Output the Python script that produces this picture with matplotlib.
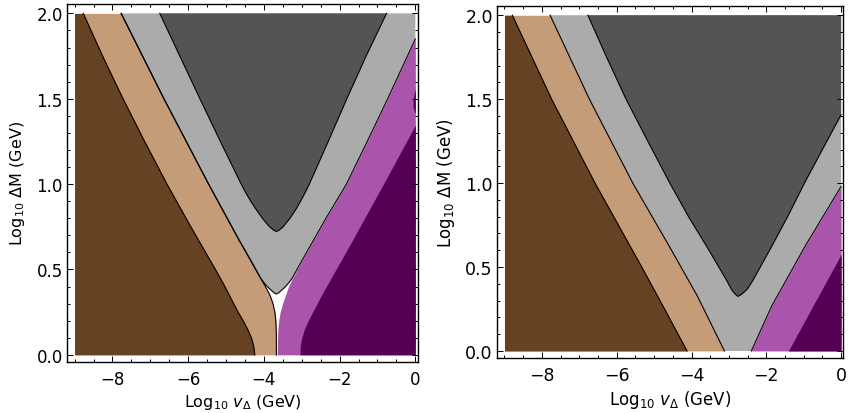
import numpy as np
import matplotlib
matplotlib.use("Agg")
import matplotlib.pyplot as plt
from matplotlib.ticker import MultipleLocator

# ---------------- data ----------------
# x = log10 v_Delta (GeV), y = log10 Delta M (GeV)
X_MIN, X_MAX, Y_MIN, Y_MAX = -9.0, 0.0, 0.0, 2.0

# ---- left panel ----
L_brown_y = [0.0, 0.05, 0.10, 0.15, 0.20, 0.25, 0.30, 0.40, 0.50, 0.75, 1.00, 1.25, 1.50, 1.75, 2.00]
L_brown_x = [-4.24, -4.27, -4.33, -4.43, -4.55, -4.68, -4.80, -5.03, -5.28, -5.93, -6.56, -7.15, -7.72, -8.26, -8.77]

L_tan_y = [0.0, 0.10, 0.15, 0.20, 0.25, 0.30, 0.35, 0.40, 0.45, 0.55, 0.67, 1.00, 1.50, 2.00]
L_tan_x = [-3.67, -3.67, -3.675, -3.685, -3.71, -3.76, -3.84, -3.96, -4.09, -4.34, -4.65, -5.46, -6.64, -7.77]

L_gray_y = [2.00, 1.50, 1.00, 0.67, 0.55, 0.45, 0.42, 0.395, 0.375, 0.362, 0.356,
            0.362, 0.375, 0.395, 0.42, 0.446, 0.55, 0.64, 0.80, 1.00, 1.25, 1.50, 1.85]
L_gray_x = [-7.77, -6.64, -5.46, -4.65, -4.34, -4.09, -3.99, -3.89, -3.79, -3.72, -3.67,
            -3.62, -3.55, -3.45, -3.35, -3.26, -3.00, -2.77, -2.36, -1.82, -1.27, -0.73, 0.0]

L_dark_y = [2.00, 1.75, 1.50, 1.25, 1.00, 0.95, 0.90, 0.85, 0.80, 0.77, 0.75, 0.735, 0.726, 0.723,
            0.726, 0.735, 0.75, 0.77, 0.80, 0.85, 0.90, 0.95, 1.00, 1.25, 1.50, 1.75, 2.00]
L_dark_x = [-6.75, -6.22, -5.69, -5.15, -4.60, -4.48, -4.35, -4.20, -4.04, -3.93, -3.85, -3.77, -3.71, -3.67,
            -3.63, -3.57, -3.49, -3.42, -3.31, -3.16, -3.03, -2.91, -2.80, -2.30, -1.81, -1.30, -0.76]

L_magenta_y = [0.0, 0.05, 0.10, 0.15, 0.20, 0.25, 0.30, 0.35, 0.40, 0.446, 0.55, 0.64, 0.80, 1.00, 1.25, 1.50, 1.85]
L_magenta_x = [-3.65, -3.645, -3.64, -3.63, -3.61, -3.57, -3.51, -3.43, -3.35, -3.25, -3.00, -2.77, -2.36, -1.82, -1.27, -0.73, 0.0]

L_purple_y = [0.0, 0.05, 0.10, 0.15, 0.20, 0.35, 0.64, 1.03, 1.345]
L_purple_x = [-3.05, -3.04, -3.00, -2.93, -2.83, -2.48, -1.74, -0.77, 0.0]

L_sliver_y = [1.41, 1.45, 1.50, 1.56]
L_sliver_x = [0.0, -0.06, -0.06, 0.0]

# ---- right panel ----
R_brown_y = [0.0, 0.25, 0.50, 1.00, 1.50, 2.00]
R_brown_x = [-4.12, -4.72, -5.33, -6.58, -7.74, -8.79]

R_tan_y = [0.0, 0.33, 0.61, 1.00, 1.50, 2.00]
R_tan_x = [-3.12, -3.85, -4.56, -5.57, -6.73, -7.78]

R_dark_y = [2.00, 1.75, 1.50, 1.25, 1.00, 0.80, 0.625, 0.50, 0.42, 0.37, 0.345, 0.332, 0.325,
            0.332, 0.345, 0.37, 0.42, 0.50, 0.625, 0.80, 1.00, 1.20, 1.407]
R_dark_x = [-6.77, -6.27, -5.75, -5.17, -4.58, -4.08, -3.60, -3.27, -3.06, -2.94, -2.86, -2.80, -2.76,
            -2.70, -2.62, -2.50, -2.36, -2.16, -1.85, -1.43, -0.98, -0.50, 0.0]

R_magenta_y = [0.0, 0.27, 0.625, 0.98]
R_magenta_x = [-2.40, -1.85, -0.96, 0.0]

R_purple_y = [0.0, 0.576]
R_purple_x = [-1.41, 0.0]

# colours
C_BROWN = "#664222"
C_TAN = "#c49c78"
C_GRAY = "#ababab"
C_DARK = "#545454"
C_MAGENTA = "#ab54ab"
C_PURPLE = "#540054"
LW = 0.8

XTICKS = [-8, -6, -4, -2, 0]
YTICKS = [0.0, 0.5, 1.0, 1.5, 2.0]
XTICKLABELS = ["\u22128", "\u22126", "\u22124", "\u22122", "0"]
YTICKLABELS = ["0.0", "0.5", "1.0", "1.5", "2.0"]
XLABEL = r"Log$_{10}$ $v_\Delta$ (GeV)"
YLABEL = r"Log$_{10}$ ΔM (GeV)"


def style(ax, fs_tick, fs_label, ylabelpad, xmax):
    ax.set_xlim(-9.2, xmax)
    ax.set_ylim(-0.042, 2.055)
    ax.set_xticks(XTICKS)
    ax.set_xticklabels(XTICKLABELS)
    ax.set_yticks(YTICKS)
    ax.set_yticklabels(YTICKLABELS)
    ax.xaxis.set_minor_locator(MultipleLocator(0.5))
    ax.yaxis.set_minor_locator(MultipleLocator(0.1))
    ax.tick_params(which="both", direction="in", top=True, right=True,
                   labelsize=fs_tick, width=0.7)
    ax.tick_params(axis="x", which="major", pad=6)
    ax.tick_params(axis="y", which="major", pad=3)
    ax.tick_params(which="major", length=4)
    ax.tick_params(which="minor", length=2.2)
    for s in ax.spines.values():
        s.set_linewidth(1.0)
    ax.set_xlabel(XLABEL, fontsize=fs_label, labelpad=3)
    ax.set_ylabel(YLABEL, fontsize=fs_label, labelpad=ylabelpad)


fig = plt.figure(figsize=(8.48, 4.14), dpi=100)

# ---------------- left panel ----------------
ax1 = fig.add_axes([67 / 848, 51 / 414, 351 / 848, 358 / 414])
ax1.fill_betweenx(L_tan_y, X_MIN, L_tan_x, color=C_TAN, lw=0)
ax1.fill_betweenx(L_brown_y, X_MIN, L_brown_x, color=C_BROWN, lw=0)
ax1.fill_betweenx(L_magenta_y, L_magenta_x, X_MAX, color=C_MAGENTA, lw=0)
ax1.fill_betweenx(L_purple_y, L_purple_x, X_MAX, color=C_PURPLE, lw=0)
ax1.fill_betweenx(L_sliver_y, L_sliver_x, X_MAX, color=C_PURPLE, lw=0)
ax1.fill(L_gray_x + [X_MAX], L_gray_y + [Y_MAX], color=C_GRAY, lw=0)
ax1.fill(L_dark_x, L_dark_y, color=C_DARK, lw=0)
ax1.plot(L_brown_x, L_brown_y, color="k", lw=LW)
ax1.plot(L_tan_x, L_tan_y, color="k", lw=LW)
ax1.plot(L_gray_x, L_gray_y, color="k", lw=LW)
ax1.plot(L_dark_x, L_dark_y, color="k", lw=LW)
style(ax1, 12, 11.5, 6.5, 0.07)

# ---------------- right panel ----------------
ax2 = fig.add_axes([497 / 848, 55 / 414, 346 / 848, 352 / 414])
gray_x = R_tan_x[::-1] + R_magenta_x + [X_MAX]
gray_y = R_tan_y[::-1] + R_magenta_y + [Y_MAX]
ax2.fill(gray_x, gray_y, color=C_GRAY, lw=0)
ax2.fill_betweenx(R_tan_y, X_MIN, R_tan_x, color=C_TAN, lw=0)
ax2.fill_betweenx(R_brown_y, X_MIN, R_brown_x, color=C_BROWN, lw=0)
ax2.fill_betweenx(R_magenta_y, R_magenta_x, X_MAX, color=C_MAGENTA, lw=0)
ax2.fill_betweenx(R_purple_y, R_purple_x, X_MAX, color=C_PURPLE, lw=0)
ax2.fill(R_dark_x + [X_MAX], R_dark_y + [Y_MAX], color=C_DARK, lw=0)
ax2.plot(R_brown_x, R_brown_y, color="k", lw=LW)
ax2.plot(R_tan_x, R_tan_y, color="k", lw=LW)
ax2.plot(R_magenta_x, R_magenta_y, color="k", lw=LW)
ax2.plot(R_dark_x, R_dark_y, color="k", lw=LW)
style(ax2, 12.5, 12, 6, 0.05)

fig.savefig("out.png", dpi=100)
